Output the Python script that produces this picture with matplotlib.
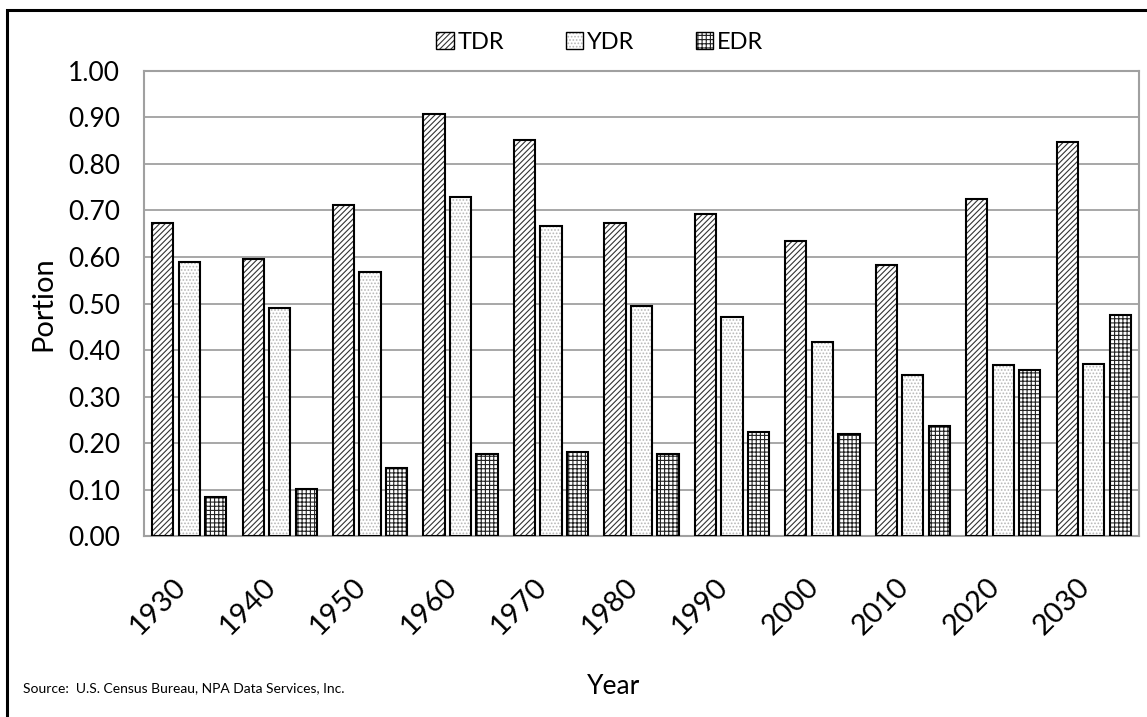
import numpy as np
import matplotlib.pyplot as plt
import matplotlib.transforms as mtransforms
from matplotlib.patches import Patch, Rectangle

plt.rcParams['font.family'] = ['Lato', 'DejaVu Sans']
plt.rcParams['hatch.linewidth'] = 0.8

years = ['1930', '1940', '1950', '1960', '1970', '1980', '1990', '2000', '2010', '2020', '2030']
tdr = [0.673, 0.596, 0.712, 0.908, 0.852, 0.673, 0.692, 0.634, 0.583, 0.725, 0.847]
ydr = [0.589, 0.490, 0.568, 0.729, 0.667, 0.495, 0.471, 0.417, 0.346, 0.368, 0.370]
edr = [0.084, 0.101, 0.146, 0.176, 0.181, 0.176, 0.224, 0.219, 0.237, 0.357, 0.475]
series = ['TDR', 'YDR', 'EDR']

fig = plt.figure(figsize=(11.47, 7.17), dpi=100)
ax = fig.add_axes([0.1255, 0.2524, 0.993 - 0.1255, 0.901 - 0.2524])

x = np.arange(len(years))
w = 0.235
step = 0.293
styles = [('//////', '#333333'), ('.....', '#b8b8b8'), ('++++', '#222222')]

handles = []
for k, vals in enumerate([tdr, ydr, edr]):
    hatch, hc = styles[k]
    pos = x + (k - 1) * step
    ax.bar(pos, vals, w, color='white', edgecolor=hc, hatch=hatch, linewidth=0, zorder=3)
    ax.bar(pos, vals, w, fill=False, edgecolor='black', linewidth=1.5, zorder=4)
    handles.append((Patch(facecolor='white', edgecolor=hc, hatch=hatch, linewidth=0),
                    Patch(fill=False, edgecolor='black', linewidth=1.0)))

ax.set_xlim(-0.5, len(years) - 0.5)
ax.set_ylim(0, 1.0)
ax.set_yticks(np.arange(0, 1.01, 0.1))
ax.set_yticklabels([f'{v:.2f}' for v in np.arange(0, 1.01, 0.1)], fontsize=19)
ax.yaxis.grid(True, color='#a0a0a0', linewidth=1.3, zorder=0)
ax.set_axisbelow(True)
ax.tick_params(axis='y', length=0, pad=17)
ax.tick_params(axis='x', length=0, pad=27)
ax.set_xticks(x)
ax.set_xticklabels(years, fontsize=21, rotation=45, ha='right', va='top', rotation_mode='anchor')
shift = mtransforms.ScaledTranslation(-17 / 100, 0, fig.dpi_scale_trans)
for lab in ax.get_xticklabels():
    lab.set_transform(lab.get_transform() + shift)
for s in ax.spines.values():
    s.set_color('#a0a0a0')
    s.set_linewidth(1.5)

fig.text(0.038, 0.577, 'Portion', fontsize=21, rotation=90, ha='center', va='center')
fig.text(0.535, 0.043, 'Year', fontsize=19, ha='center', va='center')
fig.text(0.02, 0.04, 'Source:  U.S. Census Bureau, NPA Data Services, Inc.', fontsize=10, ha='left', va='center')

ax.legend(handles, series, loc='center', bbox_to_anchor=(0.458, 1.062), ncol=3, frameon=False,
          fontsize=17, handlelength=0.75, handleheight=0.75, handletextpad=0.15, columnspacing=2.6)

fig.patches.append(Rectangle((0.006, -0.1), 1.2, 1.086, transform=fig.transFigure,
                             fill=False, edgecolor='black', linewidth=2.2))

fig.savefig('out.png', dpi=100)
